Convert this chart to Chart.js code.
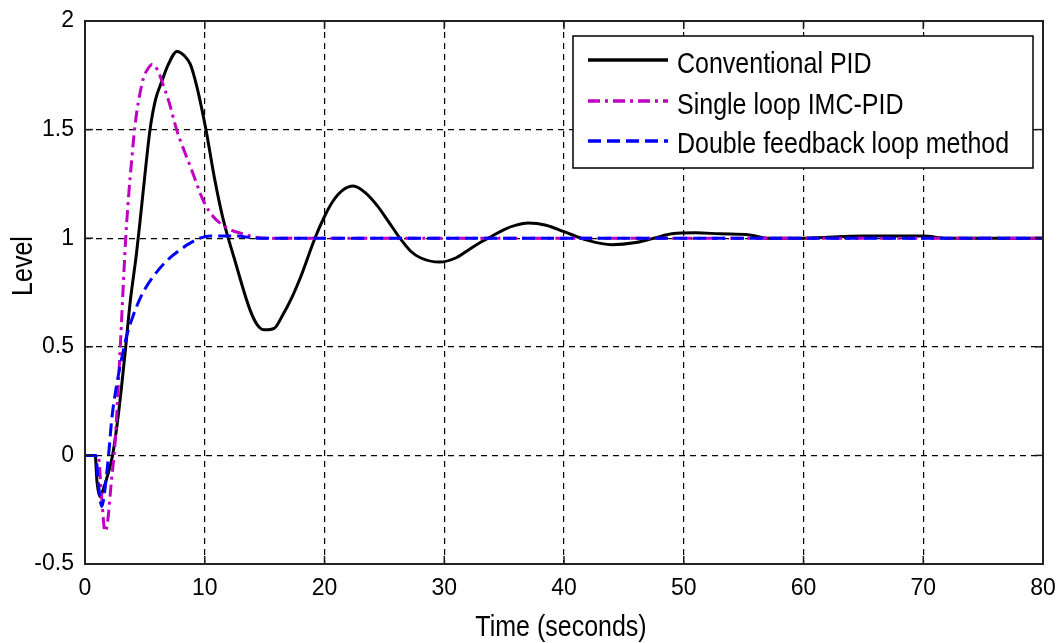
<!DOCTYPE html>
<html><head><meta charset="utf-8">
<script src="https://cdn.jsdelivr.net/npm/chart.js@4.4.0/dist/chart.umd.min.js"></script>
<style>html,body{margin:0;padding:0;background:#fff;}#wrap{width:1060px;height:643px;}</style>
</head><body><div id="wrap"><canvas id="c" width="1060" height="643"></canvas></div>
<script>
const seriesNames = ['Conventional PID', 'Single loop IMC-PID', 'Double feedback loop method'];
const xTitle = 'Time (seconds)';
const yTitle = 'Level';
const xTicks = [0, 10, 20, 30, 40, 50, 60, 70, 80];
const yTicks = [-0.5, 0, 0.5, 1, 1.5, 2];

const pidT = [0,0.85,1.0,1.25,1.5,1.9,2.3,2.7,3.06,3.4,3.76,4.3,4.6,5.0,5.43,5.9,6.4,6.96,7.68,8.3,8.8,9.33,10.1,10.8,11.55,12.45,13.78,14.4,15.0,15.8,16.5,17.3,18.0,19.2,20.0,20.7,21.5,22.4,23.4,24.4,25.3,26.3,27.2,28.0,29.6,31.0,32.0,33.0,34.0,35.0,36.0,37.0,38.5,40.0,42.0,44.0,46.0,47.5,49.0,51.0,53.0,55.5,57.0,60.0,65.0,70.0,72.0,80.0];
const pidY = [0,0,-0.12,-0.19,-0.16,-0.09,0.0,0.15,0.32,0.5,0.70,0.93,1.08,1.29,1.5,1.64,1.72,1.8,1.86,1.84,1.8,1.70,1.5,1.28,1.084,0.91,0.67,0.6,0.578,0.585,0.645,0.73,0.82,1.0,1.1,1.17,1.22,1.24,1.21,1.15,1.08,1.0,0.94,0.91,0.89,0.91,0.945,0.98,1.01,1.04,1.06,1.07,1.06,1.03,0.99,0.97,0.98,1.0,1.02,1.025,1.02,1.015,1.0,1.0,1.01,1.01,1.0,1.0];

const imcT = [0,1.1,1.4,1.67,1.9,2.2,2.5,2.9,3.4,3.65,3.9,4.1,4.31,4.6,4.9,5.25,5.6,6.1,6.5,7.0,7.65,8.3,8.8,9.4,9.9,10.7,11.5,12.3,13.2,14.2,15.5,80];
const imcY = [0,0,-0.2,-0.35,-0.3,-0.12,0.05,0.45,1.0,1.2,1.36,1.48,1.575,1.67,1.74,1.78,1.80,1.77,1.71,1.63,1.5,1.4,1.33,1.24,1.17,1.1,1.06,1.035,1.02,1.005,1.0,1.0];

const dfbT = [0,0.9,1.1,1.4,1.7,2.0,2.23,2.6,3.0,3.48,4.0,4.5,5.0,6.0,7.0,7.9,8.7,9.6,10.5,12.5,14.5,80];
const dfbY = [0,0,-0.12,-0.235,-0.14,0.02,0.165,0.31,0.43,0.55,0.64,0.71,0.765,0.845,0.905,0.945,0.975,1.0,1.01,1.01,1.0,1.0];

const pts = (t, v) => t.map((x, i) => ({x: x, y: v[i]}));

const FONT = "'Liberation Sans', Arial, Helvetica, sans-serif";

function sText(ctx, txt, x, y, align, sy) {
  ctx.save();
  ctx.translate(x, y);
  ctx.scale(1, sy);
  ctx.textAlign = align;
  ctx.textBaseline = 'alphabetic';
  ctx.fillText(txt, 0, 0);
  ctx.restore();
}

const noPad = s => { s.paddingLeft = 0; s.paddingRight = 0; s.paddingTop = 0; s.paddingBottom = 0; };

const deco = {
  id: 'deco',
  afterDraw(chart) {
    const ctx = chart.ctx, a = chart.chartArea, xs = chart.scales.x, ys = chart.scales.y;
    ctx.save();
    ctx.setLineDash([]);
    ctx.strokeStyle = '#1a1a1a';
    ctx.lineWidth = 1.5;
    const seg = (x1, y1, x2, y2) => { ctx.beginPath(); ctx.moveTo(x1, y1); ctx.lineTo(x2, y2); ctx.stroke(); };
    xTicks.forEach(v => { const p = xs.getPixelForValue(v); seg(p, a.bottom, p, a.bottom - 8); seg(p, a.top, p, a.top + 8); });
    yTicks.forEach(v => { const p = ys.getPixelForValue(v); seg(a.left, p, a.left + 8, p); seg(a.right, p, a.right - 8, p); });
    ctx.lineWidth = 2;
    ctx.strokeStyle = '#222';
    ctx.strokeRect(a.left, a.top, a.right - a.left, a.bottom - a.top);

    // legend
    const lx = a.right - 470, ly = a.top + 15, lw = 460, lh = 132;
    ctx.fillStyle = '#fff';
    ctx.fillRect(lx, ly, lw, lh);
    ctx.lineWidth = 1.5;
    ctx.strokeStyle = '#000';
    ctx.strokeRect(lx, ly, lw, lh);
    ctx.font = '25px ' + FONT;
    const rowsLine = [24, 65, 105];
    const rowsText = [37, 77.5, 117];
    chart.data.datasets.forEach((ds, i) => {
      ctx.save();
      ctx.strokeStyle = ds.borderColor;
      ctx.lineWidth = 3.5;
      ctx.setLineDash(ds.borderDash || []);
      seg(lx + 15, ly + rowsLine[i], lx + 95, ly + rowsLine[i]);
      ctx.restore();
      ctx.fillStyle = '#000';
      sText(ctx, ds.label, lx + 104, ly + rowsText[i], 'left', 1.18);
    });

    // axis titles
    ctx.fillStyle = '#000';
    ctx.font = '25px ' + FONT;
    sText(ctx, xTitle, (a.left + a.right) / 2 - 3, 636, 'center', 1.2);
    ctx.save();
    ctx.translate(32, 266);
    ctx.rotate(-Math.PI / 2);
    ctx.scale(1, 1.2);
    ctx.textAlign = 'center';
    ctx.textBaseline = 'alphabetic';
    ctx.fillText(yTitle, 0, 0);
    ctx.restore();
    ctx.restore();
  }
};

new Chart(document.getElementById('c'), {
  type: 'line',
  data: {
    datasets: [
      { label: seriesNames[0], data: pts(pidT, pidY), borderColor: '#000000', borderWidth: 3, borderDash: [], order: 3 },
      { label: seriesNames[1], data: pts(imcT, imcY), borderColor: '#c000c0', borderWidth: 3, borderDash: [12, 5, 3, 5], order: 2 },
      { label: seriesNames[2], data: pts(dfbT, dfbY), borderColor: '#0000ff', borderWidth: 3, borderDash: [13, 6], order: 1 }
    ]
  },
  options: {
    responsive: false,
    animation: false,
    events: [],
    layout: { padding: { top: 21, right: 17, left: 0, bottom: 0 } },
    elements: { point: { radius: 0 }, line: { cubicInterpolationMode: 'monotone', fill: false } },
    plugins: { legend: { display: false }, tooltip: { enabled: false }, title: { display: false } },
    scales: {
      x: {
        type: 'linear', min: 0, max: 80,
        afterBuildTicks: s => { s.ticks = xTicks.map(v => ({ value: v })); },
        afterFit: s => { s.height = 79; noPad(s); },
        grid: { color: '#000', lineWidth: 1.2, drawTicks: false },
        border: { display: false, dash: [6, 5] },
        ticks: { color: '#000', padding: 11, font: { family: FONT, size: 23 }, maxRotation: 0, autoSkip: false, callback: v => String(v) }
      },
      y: {
        type: 'linear', min: -0.5, max: 2,
        afterBuildTicks: s => { s.ticks = yTicks.map(v => ({ value: v })); },
        afterFit: s => { s.width = 85; noPad(s); },
        grid: { color: '#000', lineWidth: 1.2, drawTicks: false },
        border: { display: false, dash: [6, 5] },
        ticks: { color: '#000', padding: 11, font: { family: FONT, size: 23 }, autoSkip: false, callback: v => String(v) }
      }
    }
  },
  plugins: [deco]
});
</script>
</body></html>
